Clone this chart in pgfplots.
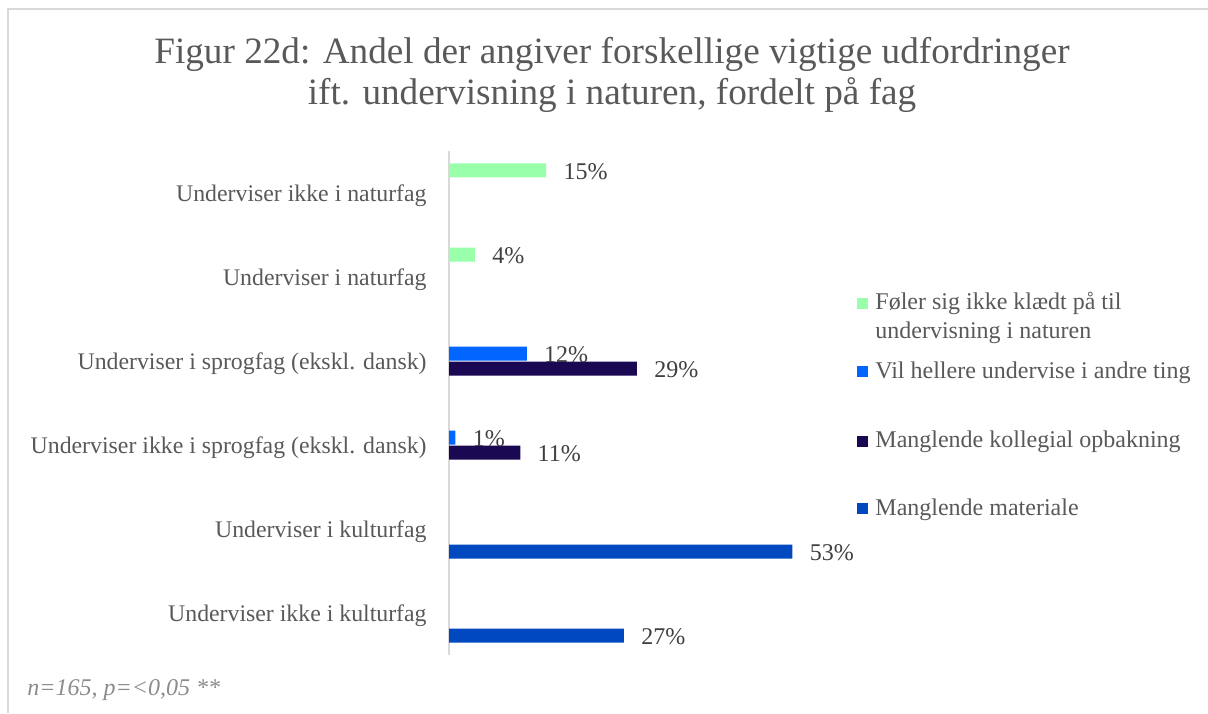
\documentclass[border=0pt]{standalone}
\usepackage{pgfplots}
\pgfplotsset{compat=1.18}
\usepackage{fontspec}
\setmainfont{Liberation Serif}
\definecolor{cgreen}{RGB}{153,255,170}
\definecolor{cblue}{RGB}{0,102,255}
\definecolor{cnavy}{RGB}{26,8,82}
\definecolor{cmat}{RGB}{0,72,192}
\definecolor{tgray}{RGB}{89,89,89}
\definecolor{dgray}{RGB}{64,64,64}
\definecolor{fgray}{RGB}{140,140,140}
\definecolor{bgray}{RGB}{217,217,217}
\newcommand\px[2]{({#1*0.5pt},{(713-#2)*0.5pt})}
\begin{document}
\begin{tikzpicture}
\path[use as bounding box] (0,0) rectangle (604pt,356.5pt);
\draw[bgray, line width=1pt] \px{8}{713} -- \px{8}{9} -- \px{1210}{9};
\node[text=tgray, font=\fontsize{18.6}{20.5}\selectfont, anchor=base] at \px{612}{64} {Figur 22d: Andel der angiver forskellige vigtige udfordringer};
\node[text=tgray, font=\fontsize{18.6}{20.5}\selectfont, anchor=base] at \px{612}{105} {ift. undervisning i naturen, fordelt på fag};
\begin{axis}[
  at={(224.5pt,29pt)}, anchor=south west, scale only axis,
  width=194.4pt, height=252pt,
  xmin=0, xmax=60, ymin=-0.5, ymax=5.5,
  axis x line=none, axis y line*=left,
  y axis line style={draw=bgray, line width=1pt},
  ytick={0,...,5},
  yticklabels={Underviser ikke i kulturfag, Underviser i kulturfag, Underviser ikke i sprogfag (ekskl. dansk), Underviser i sprogfag (ekskl. dansk), Underviser i naturfag, Underviser ikke i naturfag},
  major tick length=0pt,
  yticklabel style={font=\fontsize{11.9}{14}\selectfont, text=tgray, inner sep=0pt, anchor=base east, xshift=-11pt, yshift=-4pt},
  xbar, bar width=7pt,
  point meta=x,
  nodes near coords={\pgfmathprintnumber{\pgfplotspointmeta}\%},
  nodes near coords style={font=\fontsize{12}{14}\selectfont, text=dgray, inner sep=0pt, xshift=8.5pt, yshift=-0.5pt},
  /pgf/number format/assume math mode=true,
  clip=false,
]
\addplot[fill=cgreen, draw=none, bar shift=11.25pt] coordinates {(15,5) (4,4)};
\addplot[fill=cblue, draw=none, bar shift=3.75pt] coordinates {(12,3) (1,2)};
\addplot[fill=cnavy, draw=none, bar shift=-3.75pt] coordinates {(29,3) (11,2)};
\addplot[fill=cmat, draw=none, bar shift=-11.25pt] coordinates {(53,1) (27,0)};
\end{axis}
% legend
\fill[cgreen] \px{857}{297.5} rectangle \px{868}{308.5};
\node[anchor=base west, inner sep=0pt, text=tgray, font=\fontsize{12}{14}\selectfont] at \px{875}{310} {Føler sig ikke klædt på til};
\node[anchor=base west, inner sep=0pt, text=tgray, font=\fontsize{12}{14}\selectfont] at \px{875}{338} {undervisning i naturen};
\fill[cblue] \px{857}{366} rectangle \px{868}{377};
\node[anchor=base west, inner sep=0pt, text=tgray, font=\fontsize{12}{14}\selectfont] at \px{875}{378} {Vil hellere undervise i andre ting};
\fill[cnavy] \px{857}{435.5} rectangle \px{868}{446.5};
\node[anchor=base west, inner sep=0pt, text=tgray, font=\fontsize{12}{14}\selectfont] at \px{875}{447} {Manglende kollegial opbakning};
\fill[cmat] \px{857}{503} rectangle \px{868}{514};
\node[anchor=base west, inner sep=0pt, text=tgray, font=\fontsize{12}{14}\selectfont] at \px{875}{515} {Manglende materiale};
\node[anchor=base west, inner sep=0pt, text=fgray, font=\fontsize{12}{14}\itshape] at \px{27}{695} {n=165, p=<0,05 **};
\end{tikzpicture}
\end{document}
